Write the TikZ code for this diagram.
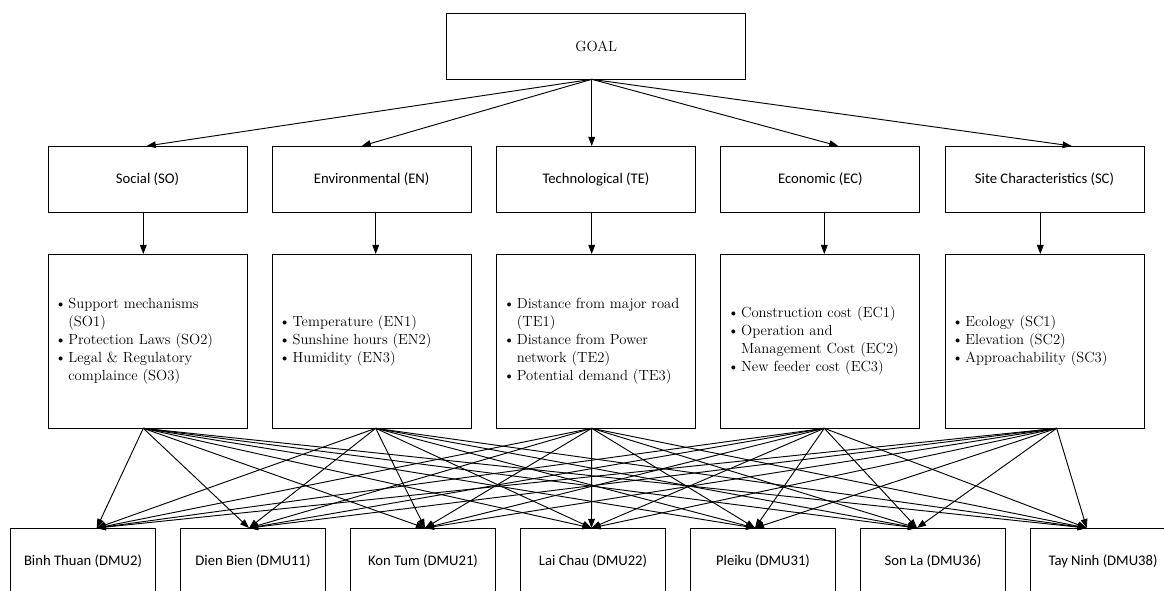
\documentclass[tikz,border=0pt]{standalone}
\usepackage{fontspec}
\newfontfamily\carl{Carlito}
\newcommand{\bi}[1]{\makebox[10pt][l]{\textbullet}#1}
\newcommand{\ind}{\hspace*{10pt}}
\usetikzlibrary{arrows.meta}
\begin{document}
\begin{tikzpicture}[x=0.75pt,y=-0.75pt,
  every node/.style={line width=0.7pt},
  goalbox/.style={draw, inner sep=0pt, minimum width=224.25pt, minimum height=49.5pt, font=\rmfamily\fontsize{11}{13.5}\selectfont},
  crit/.style={draw, inner sep=0pt, minimum width=149.25pt, minimum height=49.5pt, font=\carl\fontsize{11}{13}\selectfont},
  subbox/.style={draw, inner xsep=5.25pt, inner ysep=0pt, text width=138.75pt, minimum height=130.7pt, align=left, font=\rmfamily\fontsize{11}{13.5}\selectfont},
  alt/.style={draw, inner sep=0pt, minimum width=109pt, minimum height=49.5pt, font=\carl\fontsize{11}{13}\selectfont},
  arr/.style={-{Triangle[length=6.8pt,width=5pt]}, line width=0.7pt}]
\path[use as bounding box, clip] (0,0) rectangle (1164,590);
\fill[white] (0,0) rectangle (1164,590);
% goal
\node[goalbox] (goal) at (596.2,46.3) {GOAL};
% criteria
\node[crit] (c1) at (147.5,179.2) {Social (SO)};
\node[crit] (c2) at (371.7,179.2) {Environmental (EN)};
\node[crit] (c3) at (596,179.2) {Technological (TE)};
\node[crit] (c4) at (820.3,179.2) {Economic (EC)};
\node[crit] (c5) at (1044.5,179.2) {Site Characteristics (SC)};
% sub-criteria
\node[subbox] (s1) at (147.5,341.2) {\bi{Support mechanisms}\\ \ind(SO1)\\ \bi{Protection Laws (SO2)}\\ \bi{Legal \& Regulatory}\\ \ind complaince (SO3)};
\node[subbox] (s2) at (371.7,341.2) {\bi{Temperature (EN1)}\\ \bi{Sunshine hours (EN2)}\\ \bi{Humidity (EN3)}};
\node[subbox] (s3) at (596,341.2) {\bi{Distance from major road}\\ \ind(TE1)\\ \bi{Distance from Power}\\ \ind network (TE2)\\ \bi{Potential demand (TE3)}};
\node[subbox] (s4) at (820.3,341.2) {\bi{Construction cost (EC1)}\\ \bi{Operation and}\\ \ind Management Cost (EC2)\\ \bi{New feeder cost (EC3)}};
\node[subbox] (s5) at (1044.5,341.2) {\bi{Ecology (SC1)}\\ \bi{Elevation (SC2)}\\ \bi{Approachability (SC3)}};
% alternatives
\node[alt] (a1) at (83,561) {Binh Thuan (DMU2)};
\node[alt] (a2) at (253,561) {Dien Bien (DMU11)};
\node[alt] (a3) at (423,561) {Kon Tum (DMU21)};
\node[alt] (a4) at (593,561) {Lai Chau (DMU22)};
\node[alt] (a5) at (763,561) {Pleiku (DMU31)};
\node[alt] (a6) at (933,561) {Son La (DMU36)};
\node[alt] (a7) at (1103,561) {Tay Ninh (DMU38)};
% ports
\coordinate (g0) at (591.7,79.3);
\foreach \x [count=\i] in {146.7,361.7,591.7,838.3,1071.7} \coordinate (ct\i) at (\x,146);
\foreach \x [count=\i] in {143.3,375.7,591.7,824.3,1040.3} {\coordinate (cb\i) at (\x,212.3); \coordinate (st\i) at (\x,254);}
\foreach \x [count=\i] in {143.3,375.7,591.7,824.3,1056.7} \coordinate (sb\i) at (\x,428.3);
\foreach \x [count=\i] in {96.7,249,425,591.5,755,917,1086.7} \coordinate (at\i) at (\x,528);
% connectors
\foreach \i in {1,...,5} \draw[arr] (g0) -- (ct\i);
\foreach \i in {1,...,5} \draw[arr] (cb\i) -- (st\i);
\foreach \i in {1,...,5} {\foreach \j in {1,...,7} \draw[arr] (sb\i) -- (at\j);}
\end{tikzpicture}
\end{document}
